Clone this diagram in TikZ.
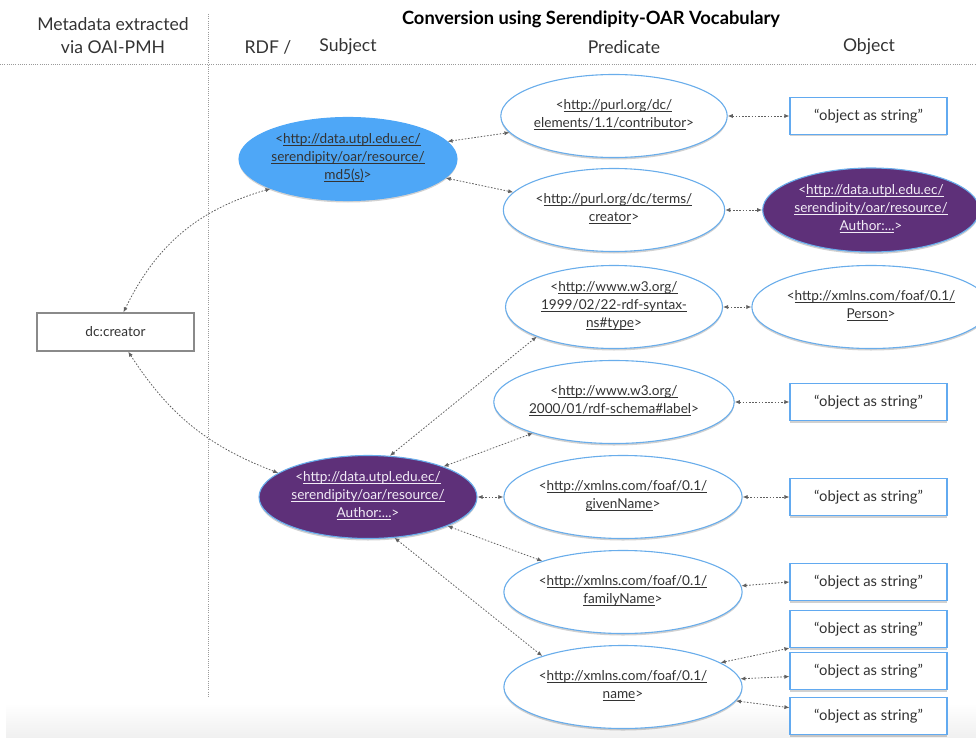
\documentclass[tikz,border=0pt]{standalone}
\usepackage{fontspec}
\setmainfont{Lato}
\usetikzlibrary{shapes.geometric,arrows.meta,shadows}
\definecolor{ellblue}{HTML}{69ADEB}
\definecolor{boxblue}{HTML}{62AAF0}
\definecolor{mdfill}{HTML}{4EA7F7}
\definecolor{authfill}{HTML}{5E3079}
\definecolor{dcgray}{HTML}{8A8A8A}
\definecolor{linkgray}{HTML}{606060}
\definecolor{txt}{HTML}{333333}
\definecolor{ptxt}{HTML}{F2ECF6}
\definecolor{rulegray}{HTML}{9A9A9A}
\newcommand\ulk[1]{\underline{\smash{#1}}}
\newcommand\fsmall{\fontsize{13.6}{17.8}\selectfont}
\newcommand\fobjbox{\fontsize{14.8}{18}\selectfont}
\newcommand\fhead{\fontsize{17.6}{23}\selectfont}
\tikzset{
  shad/.style={drop shadow={shadow xshift=0pt,shadow yshift=-2pt,opacity=0.18,fill=black}},
  pred/.style={ellipse,draw=ellblue,line width=1.1pt,fill=white,minimum width=217pt,minimum height=83pt,inner sep=0pt,align=center,text=txt,font=\fsmall,shad},
  subjblue/.style={pred,fill=mdfill,draw=mdfill,minimum width=218pt},
  subjpurple/.style={pred,fill=authfill,draw=ellblue,text=ptxt,minimum width=218pt},
  objell/.style={pred,minimum width=212pt},
  objbox/.style={rectangle,draw=boxblue,line width=1.2pt,fill=white,minimum width=157pt,minimum height=37pt,inner sep=0pt,text=txt,font=\fobjbox,shad},
  srcbox/.style={rectangle,draw=dcgray,line width=1.3pt,fill=white,minimum width=157pt,minimum height=38pt,inner sep=0pt,text=txt,font=\fsmall},
  link/.style={draw=linkgray,line width=0.8pt,dash pattern=on 1.6pt off 1.6pt,{Latex[length=5pt,width=4.2pt]}-{Latex[length=5pt,width=4.2pt]}},
  headtxt/.style={text=txt,font=\fhead,align=center,inner sep=0pt},
  sep/.style={draw=rulegray,line width=0.8pt,dash pattern=on 1pt off 1.2pt},
}
\begin{document}
\begin{tikzpicture}[x=1pt,y=-1pt]
\useasboundingbox (0,0) rectangle (976,738);
\clip (0,0) rectangle (976,738);
\shade[top color=white,bottom color=black!6] (6,703) rectangle (976,738);

% header
\node[headtxt] (hmeta) at (113,36) {Metadata extracted\\via OAI-PMH};
\node[headtxt,font=\fontsize{18.3}{22}\selectfont\bfseries,text=black] (htitle) at (591,19) {Conversion using Serendipity-OAR Vocabulary};
\node[headtxt] (hrdf) at (268,47) {RDF /};
\node[headtxt] (hsubj) at (348,47) {Subject};
\node[headtxt] (hpred) at (624,47) {Predicate};
\node[headtxt] (hobj) at (869,47) {Object};
\coordinate (hl1) at (0,64);
\coordinate (hl2) at (976,64);
\coordinate (vl1) at (208,14);
\coordinate (vl2) at (208,697);
\draw[sep] (hl1) -- (hl2);
\draw[sep] (vl1) -- (vl2);

% source
\node[srcbox] (dc) at (115.5,332) {dc:creator};

% subjects
\node[subjblue] (md5) at (348,159) {<\ulk{http://data.utpl.edu.ec/}\\\ulk{serendipity/oar/resource/}\\\ulk{md5(s)}>};
\node[subjpurple] (authL) at (368,497) {<\ulk{http://data.utpl.edu.ec/}\\\ulk{serendipity/oar/resource/}\\\ulk{Author:...}>};

% predicates
\node[pred] (contr) at (614,116) {<\ulk{http://purl.org/dc/}\\\ulk{elements/1.1/contributor}>};
\node[pred] (creatorP) at (614,210) {<\ulk{http://purl.org/dc/terms/}\\\ulk{creator}>};
\node[pred] (typeP) at (614,307) {<\ulk{http://www.w3.org/}\\\ulk{1999/02/22-rdf-syntax-}\\\ulk{ns\#type}>};
\node[pred] (labelP) at (614,402) {<\ulk{http://www.w3.org/}\\\ulk{2000/01/rdf-schema\#label}>};
\node[pred,minimum width=216pt] (given) at (623,497) {<\ulk{http://xmlns.com/foaf/0.1/}\\\ulk{givenName}>};
\node[pred,minimum width=216pt] (family) at (623,592) {<\ulk{http://xmlns.com/foaf/0.1/}\\\ulk{familyName}>};
\node[pred,minimum width=216pt] (nameP) at (623,687) {<\ulk{http://xmlns.com/foaf/0.1/}\\\ulk{name}>};

% objects
\node[objbox] (o1) at (868.5,116) {“object as string”};
\node[subjpurple,minimum width=212pt,minimum height=84pt] (authR) at (871,210) {<\ulk{http://data.utpl.edu.ec/}\\\ulk{serendipity/oar/resource/}\\\ulk{Author:...}>};
\node[objell] (person) at (871,307) {<\ulk{http://xmlns.com/foaf/0.1/}\\\ulk{Person}>};
\node[objbox] (o2) at (868.5,402) {“object as string”};
\node[objbox] (o3) at (868.5,497) {“object as string”};
\node[objbox] (o4) at (868.5,582) {“object as string”};
\node[objbox] (o5) at (868.5,629) {“object as string”};
\node[objbox] (o6) at (868.5,671) {“object as string”};
\node[objbox] (o7) at (868.5,716) {“object as string”};

% connectors
\draw[link] (md5.201) to[bend right=24] (dc.68);
\draw[link] (dc.-57) to[bend right=18] (authL.165);
\draw[link] (md5.10) -- (contr.189);
\draw[link] (md5.-11) -- (creatorP.170);
\draw[link] (contr.east) -- (o1.west);
\draw[link] (creatorP.east) -- (authR.west);
\draw[link] (typeP.east) -- (person.west);
\draw[link] (labelP.east) -- (o2.west);
\draw[link] (authL.62) -- (typeP.201);
\draw[link] (authL.22) -- (labelP.201);
\draw[link] (authL.east) -- (given.west);
\draw[link] (authL.-20) -- (family.159);
\draw[link] (authL.-57) -- (nameP.159);
\draw[link] (given.east) -- (o3.west);
\draw[link] (family.3) -- (o4.west);
\draw[link] (nameP.14) -- (o5.south west);
\draw[link] (nameP.4) -- (o6.184);
\draw[link] (nameP.-7) -- (o7.174);
\end{tikzpicture}
\end{document}
